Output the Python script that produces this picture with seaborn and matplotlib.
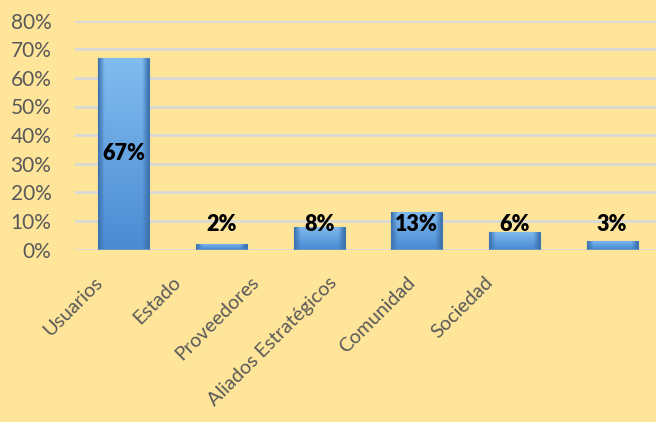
import numpy as np
import pandas as pd
import matplotlib
matplotlib.use("Agg")
import matplotlib.pyplot as plt
import seaborn as sns
from matplotlib import transforms
from matplotlib.colors import to_rgb

categories = ["Usuarios", "Estado", "Proveedores", "Aliados Estratégicos", "Comunidad", "Sociedad"]
values = [0.67, 0.02, 0.08, 0.13, 0.06, 0.03]
value_labels = ["67%", "2%", "8%", "13%", "6%", "3%"]
yticks = [0.0, 0.1, 0.2, 0.3, 0.4, 0.5, 0.6, 0.7, 0.8]
ytick_labels = ["0%", "10%", "20%", "30%", "40%", "50%", "60%", "70%", "80%"]

sns.set_theme(style="white")
plt.rcParams['font.family'] = ['Lato', 'DejaVu Sans']

BG = '#FFE599'
fig = plt.figure(figsize=(6.56, 4.22), dpi=100)
fig.patch.set_facecolor(BG)
W, H = 656, 422
ax = fig.add_axes([75 / W, 1 - 249.5 / H, (661 - 75) / W, (249.5 - 20.7) / H])
ax.set_facecolor('none')

df = pd.DataFrame({"categoria": categories, "valor": values})
sns.barplot(data=df, x="categoria", y="valor", color="#5B9BD5", width=0.52,
            ax=ax, zorder=3, edgecolor="#4377B2", linewidth=0.8)

ax.set_xlim(-0.5, len(categories) - 0.5)
ax.set_ylim(0, 0.8)
ax.set_yticks(yticks)
ax.set_yticklabels(ytick_labels)
ax.set_xlabel("")
ax.set_ylabel("")
ax.yaxis.grid(True, color="#D9D9D9", linewidth=2.0, zorder=0)
ax.set_axisbelow(True)
for s in ax.spines.values():
    s.set_visible(False)
ax.tick_params(axis='y', length=0, pad=17, labelsize=15, labelcolor="#595959")
ax.tick_params(axis='x', length=0, pad=0, labelsize=14.2, labelcolor="#595959")

# gradient fill for the bars
top = np.array(to_rgb("#82BDF0"))
bot = np.array(to_rgb("#4A8BD3"))
edge = np.array(to_rgb("#3D73B0"))
ny, nx = 100, 40
t = np.linspace(0, 1, ny)[:, None, None]
vert = top * (1 - t) + bot * t
xs = np.linspace(-1, 1, nx)[None, :, None]
wgt = np.clip((np.abs(xs) - 0.75) / 0.25, 0, 1)
grad = vert * (1 - wgt) + edge * wgt
for p in ax.patches:
    x0, y0 = p.get_x(), p.get_y()
    w, h = p.get_width(), p.get_height()
    im = ax.imshow(grad, extent=[x0, x0 + w, y0, y0 + h], aspect='auto',
                   origin='upper', zorder=3.5, interpolation='bilinear')
    im.set_clip_path(p)

# data labels
for i, (v, lab) in enumerate(zip(values, value_labels)):
    y = v / 2 if v > 0.3 else 0.087
    ax.text(i, y, lab, ha='center', va='center', fontsize=15.5,
            fontweight='heavy', color='black', zorder=5)

# rotated category labels
for i, lbl in enumerate(ax.get_xticklabels()):
    lbl.set_rotation(45)
    lbl.set_rotation_mode('anchor')
    lbl.set_ha('right')
    lbl.set_va('center')
    dx = (-24 - 19.6 * i) / 100
    dy = -30 / 100
    lbl.set_transform(lbl.get_transform() + transforms.ScaledTranslation(dx, dy, fig.dpi_scale_trans))

fig.savefig("out.png", dpi=100, facecolor=BG)
